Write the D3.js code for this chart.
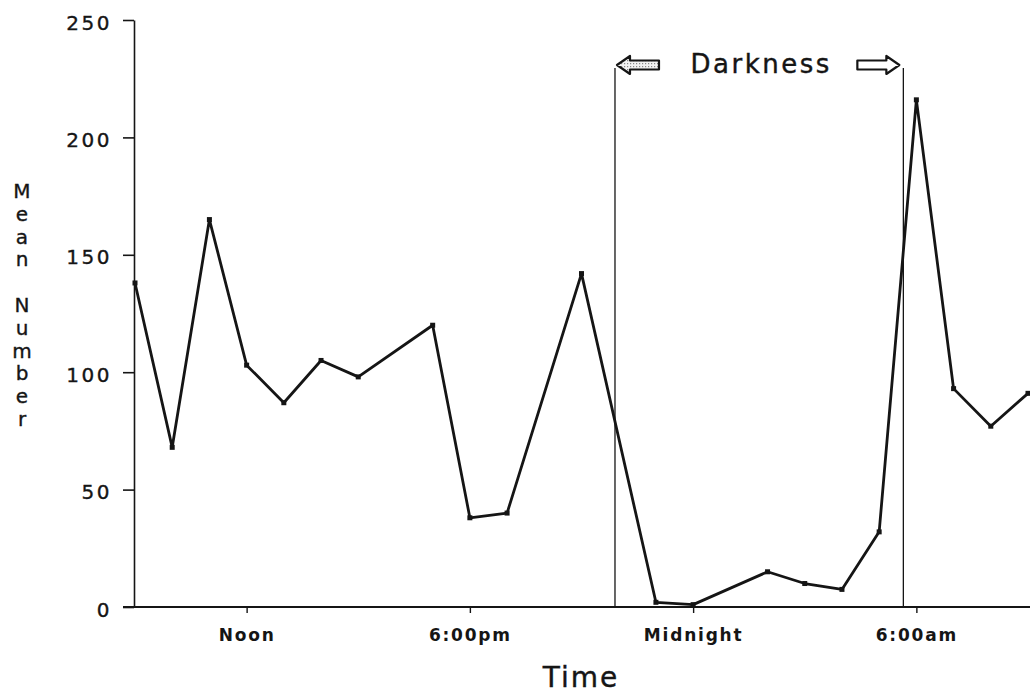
<!DOCTYPE html>
<html>
<head>
<meta charset="utf-8">
<script src="https://cdn.jsdelivr.net/npm/d3@7"></script>
<style>
  html, body { margin: 0; padding: 0; background: #fff; }
  svg { display: block; }
</style>
</head>
<body>
<svg id="chart" width="1030" height="699"></svg>
<script>
// ---- data (hour of day; hours > 24 are the next morning) ----
const hours  = [9, 10, 11, 12, 13, 14, 15, 17, 18, 19, 21, 23, 24, 26, 27, 28, 29, 30, 31, 32, 33];
const values = [138, 68, 165, 103, 87, 105, 98, 120, 38, 40, 142, 2, 1, 15, 10, 7.5, 32, 216, 93, 77, 91];
const xTickValues = [12, 18, 24, 30];
const xTickLabels = ["Noon", "6:00pm", "Midnight", "6:00am"];
const yTickValues = [0, 50, 100, 150, 200, 250];
const darkness = [21.9, 29.65];
const yLabel = "Mean Number";
const xLabel = "Time";
const darkLabel = "Darkness";

const svg = d3.select("#chart");
const ink = "#151515";

const x = d3.scaleLinear().domain([9, 33]).range([135, 1028]);
const y = d3.scaleLinear().domain([0, 250]).range([607, 20]);

// y axis
const yAxis = d3.axisLeft(y).tickValues(yTickValues).tickSize(11).tickPadding(11).tickSizeOuter(0);
const gy = svg.append("g").attr("transform", `translate(${x(9) - 1},0)`).call(yAxis);
gy.select(".domain").attr("stroke", ink).attr("stroke-width", 1.6);
gy.selectAll(".tick line").attr("stroke", ink).attr("stroke-width", 1.6);
gy.selectAll(".tick text")
  .attr("fill", ink)
  .attr("stroke", ink).attr("stroke-width", 0.35)
  .style("font-family", "'DejaVu Sans', sans-serif")
  .style("font-size", "20px")
  .style("letter-spacing", "2.5px")
  .attr("dy", "0.45em");

// x axis
const xAxis = d3.axisBottom(x).tickValues(xTickValues)
  .tickFormat((d, i) => xTickLabels[i]).tickSize(6).tickPadding(16).tickSizeOuter(0);
const gx = svg.append("g").attr("transform", `translate(0,${y(0)})`).call(xAxis);
gx.select(".domain").remove();
gx.selectAll(".tick line").attr("stroke", ink).attr("stroke-width", 1.4);
gx.selectAll(".tick text")
  .attr("fill", ink)
  .style("font-family", "'DejaVu Sans', sans-serif")
  .style("font-weight", "bold")
  .style("font-size", "17px")
  .style("letter-spacing", "1.8px");
gx.append("line")
  .attr("x1", x(9) - 12).attr("x2", 1030)
  .attr("y1", 0).attr("y2", 0)
  .attr("stroke", ink).attr("stroke-width", 2.2);

// darkness markers
const arrowY = 65;
darkness.forEach(h => {
  svg.append("line")
    .attr("x1", x(h)).attr("x2", x(h))
    .attr("y1", arrowY + 3).attr("y2", y(0))
    .attr("stroke", ink).attr("stroke-width", 1.3);
});

// stipple pattern for the left arrow
const defs = svg.append("defs");
const pat = defs.append("pattern").attr("id", "stip").attr("width", 3).attr("height", 3)
  .attr("patternUnits", "userSpaceOnUse");
pat.append("rect").attr("width", 3).attr("height", 3).attr("fill", "#f2f2f2");
pat.append("rect").attr("x", 0).attr("y", 0).attr("width", 1.2).attr("height", 1.2).attr("fill", "#888");

function arrowPath(tipX, dir) {
  // dir = -1 pointing left, +1 pointing right
  const head = 13, hh = 9, sh = 4.5, len = 42;
  const bx = tipX - dir * head, tx = tipX - dir * len;
  return `M${tipX},${arrowY} L${bx},${arrowY - hh} L${bx},${arrowY - sh} L${tx},${arrowY - sh}` +
         ` L${tx},${arrowY + sh} L${bx},${arrowY + sh} L${bx},${arrowY + hh} Z`;
}
svg.append("path").attr("d", arrowPath(x(darkness[0]) + 2, -1))
  .attr("fill", "url(#stip)").attr("stroke", ink).attr("stroke-width", 2.2).attr("stroke-linejoin", "round");
svg.append("path").attr("d", arrowPath(x(darkness[1]) - 4, 1))
  .attr("fill", "#fff").attr("stroke", ink).attr("stroke-width", 2.2).attr("stroke-linejoin", "round");

svg.append("text")
  .attr("x", (x(darkness[0]) + x(darkness[1])) / 2 + 2)
  .attr("y", 73)
  .attr("text-anchor", "middle")
  .attr("fill", ink)
  .attr("stroke", ink).attr("stroke-width", 0.4)
  .style("font-family", "'DejaVu Sans', sans-serif")
  .style("font-size", "26px")
  .style("letter-spacing", "2.5px")
  .text(darkLabel);

// data line
const line = d3.line().x((d, i) => x(hours[i])).y(d => y(d));
svg.append("path")
  .datum(values)
  .attr("d", line)
  .attr("fill", "none")
  .attr("stroke", ink)
  .attr("stroke-width", 2.8)
  .attr("stroke-linejoin", "round");

svg.append("g").selectAll("rect")
  .data(values)
  .join("rect")
  .attr("x", (d, i) => x(hours[i]) - 2.5)
  .attr("y", d => y(d) - 2.5)
  .attr("width", 5).attr("height", 5)
  .attr("fill", ink);

// y label, stacked letters
const yl = svg.append("text")
  .attr("fill", ink)
  .attr("stroke", ink).attr("stroke-width", 0.35)
  .style("font-family", "'DejaVu Sans', sans-serif")
  .style("font-size", "20px")
  .attr("text-anchor", "middle");
let row = 0;
yLabel.split("").forEach(ch => {
  if (ch !== " ") {
    yl.append("tspan").attr("x", 22).attr("y", 198 + row * 22.8).text(ch);
  }
  row += 1;
});

// x label
svg.append("text")
  .attr("x", 581).attr("y", 687)
  .attr("text-anchor", "middle")
  .attr("fill", ink)
  .attr("stroke", ink).attr("stroke-width", 0.4)
  .style("font-family", "'DejaVu Sans', sans-serif")
  .style("font-size", "28px")
  .style("letter-spacing", "2px")
  .text(xLabel);
</script>
</body>
</html>
